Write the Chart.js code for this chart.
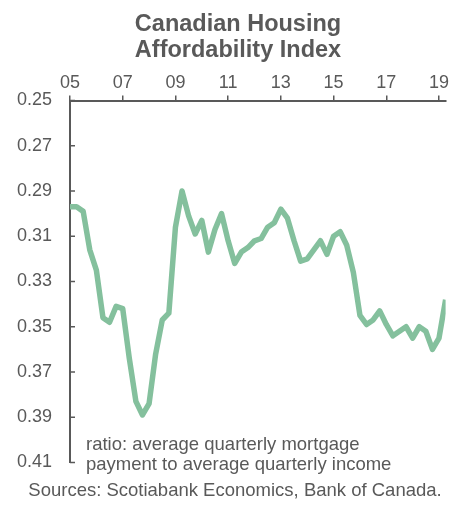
<!DOCTYPE html>
<html>
<head>
<meta charset="utf-8">
<script src="https://cdn.jsdelivr.net/npm/chart.js@4/dist/chart.umd.min.js"></script>
<style>
  html, body { margin: 0; padding: 0; background: #ffffff; }
  #wrap { width: 462px; height: 507px; }
</style>
</head>
<body>
<div id="wrap"><canvas id="chart" width="462" height="507"></canvas></div>
<script>
// Quarterly housing affordability ratio, 2005Q1 – 2019Q2
const startYear = 2005;
const affordability = [
  0.297, 0.297, 0.299, 0.316, 0.325, 0.346, 0.348, 0.341, 0.342, 0.364,
  0.383, 0.389, 0.384, 0.362, 0.347, 0.344, 0.306, 0.290, 0.301, 0.309,
  0.303, 0.317, 0.307, 0.300, 0.312, 0.322, 0.317, 0.315, 0.312, 0.311,
  0.306, 0.304, 0.298, 0.302, 0.312, 0.321, 0.320, 0.316, 0.312, 0.318,
  0.310, 0.308, 0.314, 0.326, 0.345, 0.349, 0.347, 0.343, 0.349, 0.354,
  0.352, 0.350, 0.355, 0.350, 0.352, 0.360, 0.355, 0.338
];
const xTickYears = [2005, 2007, 2009, 2011, 2013, 2015, 2017, 2019];
const yTickValues = [0.25, 0.27, 0.29, 0.31, 0.33, 0.35, 0.37, 0.39, 0.41];
const titleLines = ['Canadian Housing', 'Affordability Index'];
const noteLines = ['ratio: average quarterly mortgage', 'payment to average quarterly income'];
const sourceText = 'Sources: Scotiabank Economics, Bank of Canada.';

const points = affordability.map((v, i) => ({ x: startYear + i / 4, y: v }));

const GREY = '#595959';
const FONT = '"Liberation Sans", Arial, sans-serif';

// Text blocks and inward-pointing value ticks on the left axis
const decorations = {
  id: 'decorations',
  afterDraw(chart) {
    const ctx = chart.ctx;
    const yScale = chart.scales.y;
    const area = chart.chartArea;
    ctx.save();
    ctx.strokeStyle = GREY;
    ctx.lineWidth = 1.5;
    yTickValues.forEach(v => {
      const py = yScale.getPixelForValue(v);
      ctx.beginPath();
      ctx.moveTo(area.left, py);
      ctx.lineTo(area.left + 5, py);
      ctx.stroke();
    });

    ctx.fillStyle = GREY;
    ctx.textAlign = 'center';
    ctx.textBaseline = 'alphabetic';
    ctx.font = 'bold 23.5px ' + FONT;
    ctx.fillText(titleLines[0], 238, 31);
    ctx.fillText(titleLines[1], 238, 57);

    ctx.textAlign = 'left';
    ctx.font = '18.5px ' + FONT;
    ctx.fillText(noteLines[0], 86, 450);
    ctx.fillText(noteLines[1], 86, 470);

    ctx.textAlign = 'center';
    ctx.fillText(sourceText, 235, 496);
    ctx.restore();
  }
};

new Chart(document.getElementById('chart'), {
  type: 'line',
  data: {
    datasets: [{
      data: points,
      borderColor: '#84c09d',
      borderWidth: 5.5,
      borderJoinStyle: 'round',
      pointRadius: 0,
      tension: 0,
      fill: false
    }]
  },
  options: {
    responsive: false,
    animation: false,
    layout: { padding: { left: 0, right: 16.4, top: 0, bottom: 44.5 } },
    plugins: {
      legend: { display: false },
      tooltip: { enabled: false },
      title: { display: false }
    },
    scales: {
      x: {
        type: 'linear',
        position: 'top',
        min: 2005,
        max: 2019.25,
        afterFit(scale) { scale.height = 100.5; },
        afterBuildTicks(scale) {
          scale.ticks = xTickYears.map(v => ({ value: v }));
        },
        ticks: {
          color: GREY,
          font: { family: FONT, size: 18 },
          padding: 2,
          maxRotation: 0,
          autoSkip: false,
          callback: v => String(v % 100).padStart(2, '0')
        },
        grid: {
          drawOnChartArea: false,
          drawTicks: true,
          tickLength: 5,
          color: GREY,
          lineWidth: 1.5
        },
        border: { display: true, color: GREY, width: 2 }
      },
      y: {
        type: 'linear',
        reverse: true,
        min: 0.25,
        max: 0.41,
        afterFit(scale) { scale.width = 70; },
        afterBuildTicks(scale) {
          scale.ticks = yTickValues.map(v => ({ value: v }));
        },
        ticks: {
          color: GREY,
          font: { family: FONT, size: 18 },
          padding: 18,
          autoSkip: false,
          callback: v => v.toFixed(2)
        },
        grid: { drawOnChartArea: false, drawTicks: false },
        border: { display: true, color: GREY, width: 2 }
      }
    }
  },
  plugins: [decorations]
});
</script>
</body>
</html>
